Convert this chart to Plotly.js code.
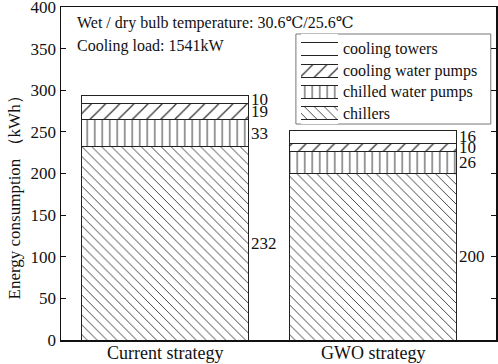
<!DOCTYPE html>
<html><head><meta charset="utf-8">
<script src="https://cdn.plot.ly/plotly-3.0.1.min.js"></script>
<style>html,body{margin:0;padding:0;background:#fff;}#chart{width:498px;height:364px;}</style>
</head><body><div id="chart"></div>
<script>
const categories = ["Current strategy", "GWO strategy"];
const chillers = [232, 200];
const chilledWaterPumps = [33, 26];
const coolingWaterPumps = [19, 10];
const coolingTowers = [10, 16];
const seriesNames = ["chillers", "chilled water pumps", "cooling water pumps", "cooling towers"];
const seriesValues = [chillers, chilledWaterPumps, coolingWaterPumps, coolingTowers];
const patterns = ["\\", "|", "/", ""];
const patternSizes = [7, 7.5, 10, 8];

const xs = categories.map((c, i) => i);
const barWidth = 0.8;
const font = "'Liberation Serif', 'DejaVu Serif', serif";
const ink = "#111";

function markerFor(k) {
  return {
    color: "#ffffff",
    line: {color: "#222", width: 1},
    pattern: {shape: patterns[k], size: patternSizes[k], solidity: 0.13, fgcolor: "#333", bgcolor: "#ffffff"}
  };
}

const traces = seriesNames.map((n, k) => ({
  type: "bar", name: n, x: xs, y: seriesValues[k], width: barWidth,
  marker: markerFor(k), hoverinfo: "skip", showlegend: false
}));

// custom legend: swatches drawn as small horizontal bars in a dedicated axis pair
const legendRows = [11, 32, 53, 75]; // row positions in legend axis units (chillers at bottom)
seriesNames.forEach((n, k) => {
  traces.push({type: "bar", orientation: "h", x: [1], y: [legendRows[k]], base: 0, width: 12.5,
    xaxis: "x2", yaxis: "y2", marker: markerFor(k), hoverinfo: "skip", showlegend: false});
});

const annotations = [];
xs.forEach((x, i) => {
  let base = 0;
  seriesValues.forEach(vals => {
    const v = vals[i];
    annotations.push({x: x + barWidth / 2, y: base + v / 2, xref: "x", yref: "y", text: String(v),
      showarrow: false, xanchor: "left", yanchor: "middle", xshift: 1, font: {family: font, size: 17, color: ink}});
    base += v;
  });
  // category label under the axis
  annotations.push({x: x, y: 0, xref: "x", yref: "y", text: categories[i], showarrow: false,
    xanchor: "center", yanchor: "middle", yshift: -13, font: {family: font, size: 18, color: ink}});
});
seriesNames.forEach((n, k) => {
  annotations.push({x: 1, y: legendRows[k], xref: "x2", yref: "y2", text: n, showarrow: false,
    xanchor: "left", yanchor: "middle", xshift: 3, font: {family: font, size: 16, color: ink}});
});
annotations.push({x: 0.033, y: 0.952, xref: "paper", yref: "paper", xanchor: "left", yanchor: "middle", showarrow: false,
  text: "Wet / dry bulb temperature: 30.6℃/25.6℃", font: {family: font, size: 16, color: ink}});
annotations.push({x: 0.033, y: 0.882, xref: "paper", yref: "paper", xanchor: "left", yanchor: "middle", showarrow: false,
  text: "Cooling load: 1541kW", font: {family: font, size: 16, color: ink}});
// y-axis title (placed like the reference, slightly below the plot centre)
annotations.push({x: -0.108, y: 0.44, xref: "paper", yref: "paper", xanchor: "center", yanchor: "middle", showarrow: false,
  textangle: -90, text: "Energy consumption （kWh）", font: {family: font, size: 17, color: ink}});

const layout = {
  width: 498, height: 364,
  margin: {l: 61, r: 2, t: 7, b: 24},
  barmode: "stack",
  paper_bgcolor: "#fff", plot_bgcolor: "#fff",
  font: {family: font, color: ink},
  showlegend: false,
  xaxis: {range: [-0.5, 1.59], tickvals: xs, showticklabels: false, ticks: "", showgrid: false, zeroline: false,
    showline: true, mirror: true, linecolor: ink, linewidth: 1.5},
  yaxis: {range: [0, 400], dtick: 50, ticks: "inside", ticklen: 5, tickwidth: 1.2, tickcolor: ink,
    ticklabeloverflow: "allow",
    showgrid: false, zeroline: false, showline: true, mirror: "all", linecolor: ink, linewidth: 1.5,
    tickfont: {family: font, size: 17, color: ink}},
  xaxis2: {domain: [0.5517, 0.6368], range: [0, 1], visible: false, fixedrange: true, anchor: "y2"},
  yaxis2: {domain: [0.6486, 0.9189], range: [0, 90], visible: false, fixedrange: true, anchor: "x2"},
  shapes: [{type: "rect", xref: "paper", yref: "paper", x0: 0.54, x1: 0.988, y0: 0.6486, y1: 0.9189,
    line: {color: "#777", width: 1}, fillcolor: "#fff", layer: "below"}],
  annotations: annotations
};
Plotly.newPlot("chart", traces, layout, {displayModeBar: false, staticPlot: true});
</script></body></html>
